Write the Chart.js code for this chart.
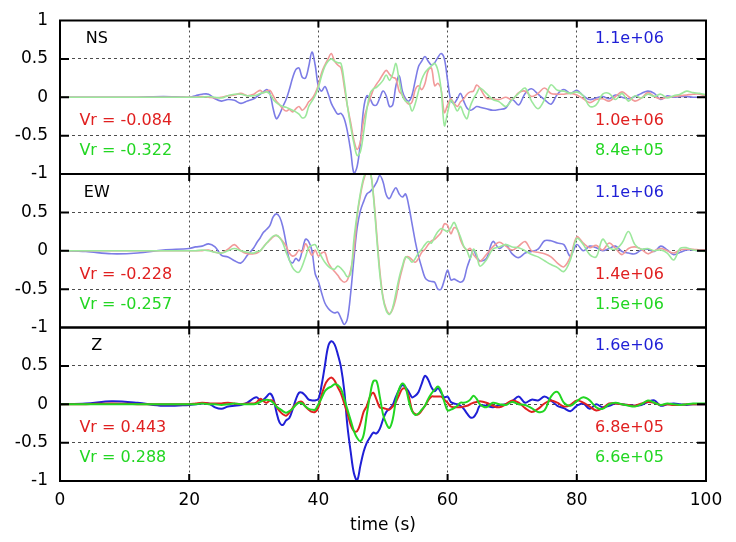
<!DOCTYPE html>
<html>
<head>
<meta charset="utf-8">
<script src="https://cdn.jsdelivr.net/npm/chart.js@4.4.1/dist/chart.umd.min.js"></script>
<style>
  html, body { margin: 0; padding: 0; background: #fff; }
  #wrap { width: 736px; height: 542px; }
</style>
</head>
<body>
<div id="wrap"><canvas id="chart" width="736" height="542"></canvas></div>
<script>
// time samples (s), shared by all traces
const timeValues = [0, 4, 8, 12, 16,
  20, 21, 22, 23, 24, 25, 26, 27, 28, 29,
  30, 30.5, 31, 31.5, 32, 32.5, 33, 33.5, 34, 34.5,
  35, 35.5, 36, 36.5, 37, 37.5, 38, 38.5, 39, 39.5,
  40, 40.5, 41, 41.5, 42, 42.5, 43, 43.5, 44, 44.5,
  45, 45.5, 46, 46.5, 47, 47.5, 48, 48.5, 49, 49.5,
  50, 50.5, 51, 51.5, 52, 52.5, 53, 53.5, 54, 54.5,
  55, 55.5, 56, 56.5, 57, 57.5, 58, 58.5, 59, 59.5,
  60, 60.5, 61, 61.5, 62, 62.5, 63, 63.5, 64, 64.5,
  65,
  66, 67, 68, 69, 70, 71, 72, 73, 74, 75,
  76, 77, 78, 79, 80, 81, 82, 83, 84, 85,
  86, 87, 88, 89, 90, 91, 92, 93, 94, 95,
  96, 97, 98, 99, 100];

// NS component
const nsBlue = [0, 0, 0, 0, 0.01,
  0, 0.02, 0.04, 0.04, -0.02, -0.05, -0.03, -0.04, -0.08, -0.05,
  -0.02, 0.01, 0.04, 0.07, 0.1, 0.05, -0.15, -0.28, -0.22, -0.12,
  -0.03, 0.1, 0.25, 0.36, 0.38, 0.26, 0.25, 0.4, 0.59, 0.42,
  0.14, 0.08, 0.14, 0.05, -0.08, -0.16, -0.22, -0.21, -0.28, -0.45,
  -0.7, -0.99, -0.9, -0.6, -0.15, 0.02, -0.02, -0.1, -0.1, -0.01,
  0.08, 0.02, -0.12, -0.1, 0.15, 0.28, 0.08, -0.02, -0.05, 0.03,
  0.22, 0.4, 0.47, 0.53, 0.47, 0.42, 0.45, 0.52, 0.57, 0.5,
  0.22, -0.04, -0.08, -0.02, 0.05, -0.05, -0.14, -0.17, -0.15, -0.12,
  -0.13,
  -0.15, -0.17, -0.16, -0.14, -0.03, -0.1, 0.05, 0.11, 0.04, -0.03,
  -0.09, 0.04, 0.1, 0.05, 0.09, 0.02, -0.03, -0.01, 0.01, -0.02,
  0.03, 0, -0.02, 0.01, 0.05, 0.08, 0.05, -0.03, 0.02, 0,
  0.01, 0.01, 0, 0, 0];
const nsRed = [0, 0, 0, 0, 0,
  0, 0, 0.01, 0, -0.01, 0, 0.02, 0.03, 0.05, 0.02,
  0.04, 0.07, 0.09, 0.06, 0.08, 0.09, 0.02, -0.05, -0.1, -0.15,
  -0.18, -0.16, -0.19, -0.15, -0.12, -0.17, -0.13, -0.06, -0.02, 0.05,
  0.16, 0.32, 0.42, 0.5, 0.57, 0.47, 0.42, 0.38, 0.14, -0.12,
  -0.33, -0.56, -0.68, -0.58, -0.3, -0.14, -0.02, 0.1, 0.17, 0.23,
  0.3, 0.35, 0.3, 0.26, 0.24, 0.08, 0.03, -0.05, -0.09, -0.06,
  0.1, 0.15, 0.1, 0.18, 0.35, 0.38, 0.15, 0.18, 0.1, -0.2,
  -0.1, -0.02, -0.08, -0.12, -0.06, -0.02, 0.04, 0.07, 0.08, 0.16,
  0.12,
  -0.01, -0.02, -0.03, 0, -0.03, 0.06, 0.08, 0.01, 0.05, 0.12,
  0.05, 0.04, 0.04, 0.05, 0.03, -0.02, -0.07, -0.03, -0.02, -0.05,
  0.01, 0.07, 0.01, -0.05, -0.01, 0.06, 0.01, -0.02, 0, 0.01,
  0.02, 0.03, 0.04, 0.04, 0.01];
const nsGreen = [0, 0, 0, 0, 0,
  0, 0, 0, 0.01, 0, -0.01, 0.02, 0.04, 0.04, 0.02,
  0.02, 0.03, 0.05, 0.06, 0.07, 0.04, -0.03, -0.07, -0.1, -0.12,
  -0.13, -0.15, -0.17, -0.19, -0.22, -0.27, -0.25, -0.12, -0.05, 0.02,
  0.13, 0.28, 0.4, 0.47, 0.5, 0.47, 0.45, 0.44, 0.2, -0.12,
  -0.38, -0.6, -0.76, -0.71, -0.46, -0.16, 0.05, 0.11, 0.13, 0.17,
  0.22, 0.29, 0.22, 0.3, 0.44, 0.22, 0.02, -0.05, -0.07, -0.18,
  -0.08, 0.08, 0.23, 0.32, 0.37, 0.41, 0.44, 0.35, 0.1, -0.37,
  -0.2, -0.04, -0.1, -0.18, -0.12, -0.22, -0.28, -0.12, -0.02, 0.05,
  0.12,
  0.05, -0.03, -0.06, -0.12, -0.03, 0.05, 0.12, -0.05, -0.15, -0.03,
  0.16, 0.09, 0.08, 0.05, 0.07, 0.02, -0.12, -0.1, 0.04, 0.05,
  -0.03, 0.05, -0.05, 0.02, -0.01, 0.04, 0.01, 0.04, -0.01, 0.02,
  0.04, 0.08, 0.06, 0.05, 0.03];

// EW component
const ewBlue = [0, -0.01, -0.04, -0.03, 0.01,
  0.03, 0.05, 0.06, 0.09, 0.05, -0.06, -0.08, -0.13, -0.16, -0.06,
  0.04, 0.11, 0.17, 0.24, 0.28, 0.33, 0.44, 0.48, 0.44, 0.31,
  0.1, -0.12, -0.16, -0.1, -0.13, 0, 0.15, 0.12, 0, -0.3,
  -0.4, -0.55, -0.68, -0.75, -0.79, -0.81, -0.8, -0.88, -0.96, -0.88,
  -0.55, -0.1, 0.3, 0.52, 0.64, 0.74, 0.77, 0.82, 0.89, 0.98,
  0.9, 0.73, 0.68, 0.76, 0.82, 0.74, 0.7, 0.74, 0.58, 0.35,
  0.12, -0.07, -0.22, -0.35, -0.39, -0.4, -0.41, -0.5, -0.5, -0.38,
  -0.25, -0.38, -0.37, -0.39, -0.41, -0.38, -0.22, -0.1, 0.01, -0.08,
  -0.13,
  -0.1, 0.12, 0.03, 0.08, -0.04, -0.09, -0.03, -0.01, 0.02, 0.13,
  0.13, 0.1, 0.08, -0.07, 0.08, 0, 0.06, 0.04, 0, 0.03,
  0.06, -0.01, -0.03, -0.04, 0.01, 0.02, -0.01, 0.06, 0.01, -0.05,
  -0.02, 0.01, 0.01, 0, 0];
const ewRed = [0, 0, 0, 0, 0,
  0, 0, 0, 0.01, -0.02, -0.03, 0.02, 0.08, 0, -0.04,
  -0.04, -0.03, 0, 0.05, 0.1, 0.14, 0.18, 0.2, 0.17, 0.12,
  0.06, -0.03, -0.07, -0.05, 0.01, -0.02, 0.09, 0.02, -0.06, 0.01,
  -0.07, -0.03, -0.02, -0.15, -0.22, -0.27, -0.32, -0.38, -0.41, -0.38,
  -0.25, 0, 0.45, 0.72, 0.92, 1.03, 1.03, 0.75, 0.25, -0.25,
  -0.6, -0.76, -0.82, -0.76, -0.62, -0.4, -0.23, -0.09, -0.08, -0.12,
  -0.15, -0.1, -0.02, 0.02, 0.08, 0.13, 0.15, 0.19, 0.24, 0.35,
  0.33, 0.22, 0.3, 0.28, 0.14, 0.05, 0.01, 0.03, -0.05, -0.1,
  -0.14,
  -0.05, 0.05, 0.11, 0.06, 0.01, 0.06, 0.12, 0, -0.02, -0.04,
  -0.08, -0.16, -0.21, -0.08, 0.18, 0.1, 0.04, 0.07, 0.01, 0.1,
  0.03, -0.05, 0.03, 0.05, 0.02, -0.04, 0, 0.03, 0, -0.03,
  0.01, 0.02, 0.02, 0.01, 0.01];
const ewGreen = [0, 0, 0, 0, 0,
  0, 0, 0.01, 0, -0.02, -0.03, 0, 0.03, 0, -0.02,
  -0.03, -0.01, 0, 0.05, 0.1, 0.15, 0.19, 0.2, 0.17, 0.1,
  -0.02, -0.12, -0.22, -0.27, -0.28, -0.2, -0.08, 0.04, 0.07, 0.08,
  0, -0.08, -0.15, -0.2, -0.23, -0.24, -0.2, -0.23, -0.28, -0.34,
  -0.3, 0.15, 0.48, 0.75, 0.95, 1.04, 1.04, 0.72, 0.2, -0.3,
  -0.62, -0.78, -0.83, -0.74, -0.55, -0.35, -0.2, -0.08, -0.1, -0.15,
  -0.1, -0.03, 0.02, 0.08, 0.12, 0.1, 0.18, 0.25, 0.29, 0.27,
  0.25, 0.3, 0.37, 0.28, 0.18, 0.06, 0, -0.1, 0.02, -0.05,
  -0.2,
  -0.12, 0.02, 0.05, 0.08, 0.05, 0.04, 0, -0.05, -0.08, -0.13,
  -0.18, -0.22, -0.27, -0.12, 0.16, 0.08, -0.05, -0.08, 0.15, 0.04,
  0.02, 0.1, 0.25, 0.08, 0.02, 0.03, 0, 0.01, -0.03, -0.12,
  0.03, 0.04, 0.01, 0, -0.01];

// Z component
const zBlue = [0, 0.01, 0.04, 0.02, -0.02,
  -0.01, 0, 0.01, 0.01, -0.04, -0.06, -0.03, -0.02, -0.01, 0.02,
  0.08, 0.09, 0.05, 0.06, 0.1, 0.14, 0.08, -0.1, -0.24, -0.27,
  -0.21, -0.18, -0.07, 0.06, 0.15, 0.15, 0.11, 0.06, 0.05, 0.05,
  0.07, 0.25, 0.5, 0.75, 0.82, 0.78, 0.65, 0.48, 0.18, -0.29,
  -0.62, -0.9, -0.99, -0.8, -0.62, -0.5, -0.43, -0.37, -0.38, -0.32,
  -0.2, -0.1, -0.06, -0.01, 0.1, 0.19, 0.25, 0.22, 0.16, 0.09,
  0.11, 0.16, 0.27, 0.37, 0.32, 0.22, 0.17, 0.21, 0.15, 0.09,
  0.1, 0.03, 0.01, 0, -0.02, -0.06, -0.12, -0.17, -0.17, -0.11,
  -0.02,
  -0.02, -0.04, -0.01, 0, 0.04, 0.1, 0.02, 0.06, 0.05, 0.1,
  0.05, -0.02, -0.05, -0.09, -0.02, 0.01, -0.06, 0, -0.04, -0.02,
  0.01, 0, -0.01, -0.02, -0.01, 0.03, 0.05, -0.02, 0, 0.01,
  0, -0.01, 0, 0, 0];
const zRed = [0, 0, 0.01, 0, 0,
  0, 0.01, 0.02, 0.01, 0.01, 0.01, 0.02, 0.01, 0, 0.01,
  0.01, 0.03, 0.07, 0.04, 0.02, 0.05, 0.04, -0.03, -0.09, -0.13,
  -0.15, -0.11, -0.05, 0, 0.03, 0.03, -0.03, -0.07, -0.1, -0.1,
  -0.04, 0.12, 0.25, 0.32, 0.35, 0.31, 0.22, 0.14, 0.01, -0.12,
  -0.27, -0.35, -0.35, -0.25, -0.1, -0.02, 0.1, 0.15, 0.06, -0.04,
  -0.05, -0.06, -0.07, -0.03, 0.03, 0.12, 0.2, 0.2, 0.1, -0.08,
  -0.13, -0.13, -0.08, -0.02, 0.05, 0.1, 0.1, 0.1, 0.1, 0.06,
  0.02, -0.03, -0.04, -0.04, -0.04, -0.03, -0.02, 0, 0.02, 0.03,
  0.04,
  0.02, -0.02, -0.04, 0, 0.05, 0.02, -0.05, -0.1, -0.06, 0.01,
  0.05, 0.02, -0.03, -0.01, 0.05, 0.02, -0.03, -0.08, -0.05, 0.01,
  0.01, 0, -0.01, -0.02, 0.01, 0.03, 0.02, -0.01, 0, -0.01,
  -0.01, 0, 0, 0, 0];
const zGreen = [0, 0, 0, 0, 0,
  0, 0, 0.01, 0, 0, -0.01, 0, 0.01, 0, 0,
  0, 0.01, 0.03, 0.05, 0.06, 0.05, 0.02, -0.03, -0.06, -0.09,
  -0.11, -0.09, -0.06, -0.01, 0.02, 0.01, -0.03, -0.06, -0.07, -0.07,
  0, 0.08, 0.17, 0.21, 0.23, 0.26, 0.25, 0.2, 0.07, -0.07,
  -0.21, -0.35, -0.44, -0.48, -0.4, -0.13, 0.12, 0.3, 0.3, 0.1,
  -0.13, -0.25, -0.31, -0.2, 0.05, 0.2, 0.27, 0.22, 0.04, -0.09,
  -0.14, -0.12, -0.07, -0.02, 0.07, 0.14, 0.19, 0.23, 0.17, 0.03,
  -0.08, -0.07, -0.05, -0.02, 0.02, 0.02, 0.03, 0.06, 0.11, 0.07,
  0,
  -0.04, 0.02, 0, -0.01, 0.03, 0, -0.01, -0.05, -0.1, -0.08,
  0.1, 0.16, 0.02, -0.02, 0.04, 0.09, 0.05, -0.04, -0.06, 0,
  0.02, 0, -0.02, -0.03, 0, 0.05, 0.02, -0.01, 0.01, 0,
  -0.01, 0, 0.01, 0.01, 0.01];

// panel annotations
const panelNames = ['NS', 'EW', 'Z'];
const vrRed = ['Vr = -0.084', 'Vr = -0.228', 'Vr = 0.443'];
const vrGreen = ['Vr = -0.322', 'Vr = -0.257', 'Vr = 0.288'];
const ampBlue = ['1.1e+06', '1.1e+06', '1.6e+06'];
const ampRed = ['1.0e+06', '1.4e+06', '6.8e+05'];
const ampGreen = ['8.4e+05', '1.5e+06', '6.6e+05'];

const panelAxes = ['yNS', 'yEW', 'yZ'];
const BLUE = '#1f1fd6';
const RED = '#e02020';
const GREEN = '#22d622';
// washed-out versions used for the NS and EW traces
const PALE = {};
PALE[BLUE] = '#7c7ce6';
PALE[RED] = '#f29a9a';
PALE[GREEN] = '#9ce89c';
// lower order is drawn on top: green over red over blue
const DRAW_ORDER = {};
DRAW_ORDER[BLUE] = 3;
DRAW_ORDER[RED] = 2;
DRAW_ORDER[GREEN] = 1;
const FONT = 'DejaVu Sans';

function toPoints(values) {
    return values.map((v, i) => ({ x: timeValues[i], y: v }));
}

function trace(values, color, axis, faded) {
    return {
        data: toPoints(values),
        yAxisID: axis,
        order: DRAW_ORDER[color],
        borderColor: faded ? PALE[color] : color,
        borderWidth: faded ? 1.6 : 2,
        pointRadius: 0,
        tension: 0.35,
        fill: false
    };
}

function panelAxis(weight, showTop) {
    return {
        type: 'linear',
        position: 'left',
        stack: 'panels',
        stackWeight: 1,
        weight: weight,
        min: -1,
        max: 1,
        ticks: {
            stepSize: 0.5,
            padding: 12,
            autoSkip: false,
            color: '#000',
            font: { family: FONT, size: 17, lineHeight: 1 },
            callback: function(v) {
                return (!showTop && v === 1) ? '' : String(v);
            }
        },
        grid: {
            color: 'rgba(0, 0, 0, 0.7)',
            lineWidth: 1,
            drawTicks: false
        },
        border: { display: false, dash: [3, 3] },
        afterFit: function(scale) { scale.width = 60; }
    };
}

// frames, inward tick marks and per-panel clipping
const panelFrame = {
    id: 'panelFrame',
    beforeDatasetDraw(chart, args) {
        const area = chart.chartArea;
        const y = args.meta.yScale;
        const ctx = chart.ctx;
        ctx.save();
        ctx.beginPath();
        ctx.rect(area.left, y.top, area.right - area.left, y.bottom - y.top);
        ctx.clip();
    },
    afterDatasetDraw(chart) {
        chart.ctx.restore();
    },
    afterDraw(chart) {
        const ctx = chart.ctx;
        const area = chart.chartArea;
        const x = chart.scales.x;
        ctx.save();
        ctx.strokeStyle = '#000';
        ctx.lineWidth = 2;
        panelAxes.forEach(function(id) {
            const s = chart.scales[id];
            ctx.strokeRect(area.left, s.top, area.right - area.left, s.bottom - s.top);
            ctx.beginPath();
            x.ticks.forEach(function(t) {
                if (t.value <= x.min || t.value >= x.max) return;
                const px = x.getPixelForValue(t.value);
                ctx.moveTo(px, s.top);
                ctx.lineTo(px, s.top + 7);
                ctx.moveTo(px, s.bottom);
                ctx.lineTo(px, s.bottom - 7);
            });
            s.ticks.forEach(function(t) {
                if (t.value <= s.min || t.value >= s.max) return;
                const py = s.getPixelForValue(t.value);
                ctx.moveTo(area.left, py);
                ctx.lineTo(area.left + 9, py);
                ctx.moveTo(area.right, py);
                ctx.lineTo(area.right - 9, py);
            });
            ctx.stroke();
        });
        ctx.restore();
    }
};

// text labels inside each panel
const panelLabels = {
    id: 'panelLabels',
    afterDatasetsDraw(chart) {
        const ctx = chart.ctx;
        const x = chart.scales.x;
        ctx.save();
        ctx.font = '16px "' + FONT + '"';
        ctx.textBaseline = 'middle';
        panelAxes.forEach(function(id, i) {
            const s = chart.scales[id];
            ctx.textAlign = 'center';
            ctx.fillStyle = '#000';
            ctx.fillText(panelNames[i], x.getPixelForValue(5.7), s.getPixelForValue(0.76));
            ctx.textAlign = 'left';
            ctx.fillStyle = RED;
            ctx.fillText(vrRed[i], x.getPixelForValue(3), s.getPixelForValue(-0.31));
            ctx.fillStyle = GREEN;
            ctx.fillText(vrGreen[i], x.getPixelForValue(3), s.getPixelForValue(-0.7));
            ctx.fillStyle = BLUE;
            ctx.fillText(ampBlue[i], x.getPixelForValue(82.8), s.getPixelForValue(0.76));
            ctx.fillStyle = RED;
            ctx.fillText(ampRed[i], x.getPixelForValue(82.8), s.getPixelForValue(-0.31));
            ctx.fillStyle = GREEN;
            ctx.fillText(ampGreen[i], x.getPixelForValue(82.8), s.getPixelForValue(-0.7));
        });
        ctx.restore();
    }
};

new Chart(document.getElementById('chart').getContext('2d'), {
    type: 'line',
    data: {
        datasets: [
            trace(nsBlue, BLUE, 'yNS', true),
            trace(nsRed, RED, 'yNS', true),
            trace(nsGreen, GREEN, 'yNS', true),
            trace(ewBlue, BLUE, 'yEW', true),
            trace(ewRed, RED, 'yEW', true),
            trace(ewGreen, GREEN, 'yEW', true),
            trace(zBlue, BLUE, 'yZ', false),
            trace(zRed, RED, 'yZ', false),
            trace(zGreen, GREEN, 'yZ', false)
        ]
    },
    options: {
        responsive: false,
        animation: false,
        devicePixelRatio: 1,
        layout: {
            padding: { left: 0, right: 30, top: 9, bottom: 0 }
        },
        plugins: {
            legend: { display: false },
            tooltip: { enabled: false }
        },
        scales: {
            x: {
                type: 'linear',
                min: 0,
                max: 100,
                ticks: {
                    stepSize: 20,
                    padding: 9,
                    color: '#000',
                    font: { family: FONT, size: 17 }
                },
                grid: {
                    color: 'rgba(0, 0, 0, 0.7)',
                    lineWidth: 1,
                    drawTicks: false
                },
                border: { display: false, dash: [2, 3] },
                title: {
                    display: true,
                    text: 'time (s)',
                    color: '#000',
                    font: { family: FONT, size: 17 },
                    padding: { top: 0, bottom: 6 }
                },
                afterFit: function(scale) { scale.height = 61; }
            },
            yZ: panelAxis(1, false),
            yEW: panelAxis(2, false),
            yNS: panelAxis(3, true)
        }
    },
    plugins: [panelFrame, panelLabels]
});
</script>
</body>
</html>
